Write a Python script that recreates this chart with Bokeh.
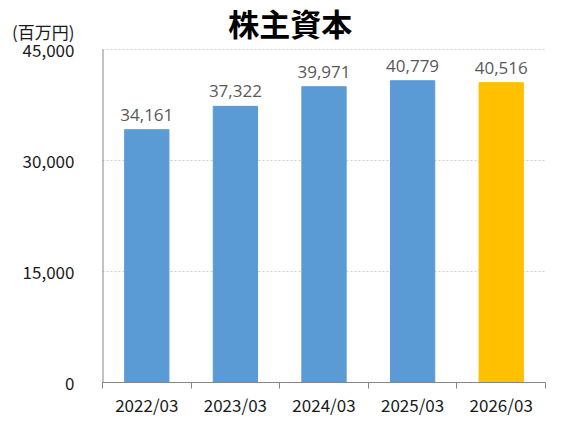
from bokeh.plotting import figure
from bokeh.models import (ColumnDataSource, FactorRange, Range1d, LinearAxis, FixedTicker,
                          NumeralTickFormatter, LabelSet, Label, Grid)
from bokeh.core.properties import value
from bokeh.embed import file_html
from bokeh.resources import INLINE

categories = ["2022/03", "2023/03", "2024/03", "2025/03", "2026/03"]
equity = [34161, 37322, 39971, 40779, 40516]
y_ticks = [0, 15000, 30000, 45000]
title_text = "株主資本"
unit_text = "(百万円)"

BLUE = "#5B9BD5"
GOLD = "#FFC000"
colors = [BLUE] * (len(categories) - 1) + [GOLD]

src = ColumnDataSource(dict(
    cat=categories,
    val=equity,
    color=colors,
    label=[f"{v:,}" for v in equity],
))

# frame spans canvas top so the title can live inside it; 45,000 sits 49px below the top
Y_MAX = 45000
Y_END = Y_MAX * 382 / 333
PX = Y_MAX / 333  # data units per pixel

p = figure(width=567, height=431, output_backend="svg", toolbar_location=None,
           x_range=FactorRange(factors=categories, range_padding=0),
           y_range=Range1d(0, Y_END),
           x_axis_type=None, y_axis_type=None,
           min_border_left=102, min_border_right=22, min_border_top=0, min_border_bottom=49)
p.outline_line_color = None
p.background_fill_color = "white"
p.border_fill_color = "white"

grid = Grid(dimension=1, ticker=FixedTicker(ticks=y_ticks),
            grid_line_color="#cfcfcf", grid_line_dash="2 2")
p.add_layout(grid)

p.vbar(x="cat", top="val", width=0.5, color="color", source=src)

# y axis (unit label rides on it as an extra tick above the top value)
unit_pos = Y_MAX + 18 * PX
yaxis = LinearAxis(ticker=FixedTicker(ticks=y_ticks + [unit_pos], minor_ticks=[]),
                   formatter=NumeralTickFormatter(format="0,0"))
yaxis.major_label_overrides = {unit_pos: unit_text}
yaxis.axis_line_color = None
yaxis.major_tick_line_color = None
yaxis.minor_tick_line_color = None
yaxis.major_label_standoff = 22
yaxis.major_label_text_font = "Noto Sans CJK JP"
yaxis.major_label_text_font_size = "17px"
yaxis.major_label_text_color = "#1a1a1a"
p.add_layout(yaxis, "left")

# visible y-axis line from 0 to the top value
p.segment(x0=[0], y0=[0], x1=[0], y1=[Y_MAX], line_color="#868686", line_width=2)

# x axis: labels at category centres, ticks at category boundaries
n = len(categories)
centres = [i + 0.5 for i in range(n)]
xaxis = LinearAxis(ticker=FixedTicker(ticks=centres, minor_ticks=list(range(n + 1))))
xaxis.major_label_overrides = {c: lab for c, lab in zip(centres, categories)}
xaxis.axis_line_color = "#868686"
xaxis.major_tick_line_color = None
xaxis.minor_tick_line_color = "#868686"
xaxis.minor_tick_in = 0
xaxis.minor_tick_out = 6
xaxis.major_label_standoff = 3
xaxis.major_label_text_font = "Noto Sans CJK JP"
xaxis.major_label_text_font_size = "17px"
xaxis.major_label_text_color = "#1a1a1a"
p.add_layout(xaxis, "below")

labels = LabelSet(x="cat", y="val", text="label", source=src, y_offset=9,
                  text_align="center", text_baseline="bottom",
                  text_font=value("Open Sans"), text_font_size="17px", text_color="#595959")
p.add_layout(labels)

p.add_layout(Label(x=2.12, y=Y_MAX + 27 * PX, text=title_text, text_align="center",
                   text_baseline="middle", text_font="Noto Sans CJK JP",
                   text_font_size="31px", text_font_style="bold", text_color="black"))

open("out.html", "w").write(file_html(p, INLINE))
